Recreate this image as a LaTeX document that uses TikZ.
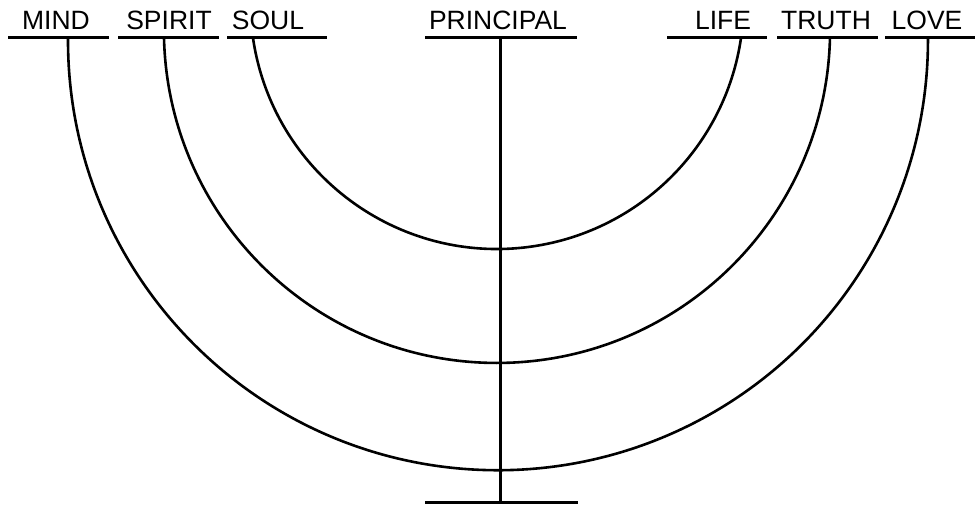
\documentclass[tikz,border=0pt]{standalone}
\usepackage{fontspec}
\setmainfont{Liberation Sans}
\begin{document}
\begin{tikzpicture}[x=1pt,y=1pt,
  lbl/.style={anchor=base,inner sep=0pt,font=\fontsize{26.5}{31}\selectfont},
  bar/.style={line width=3pt},
  ring/.style={line width=2.6pt}]
  \useasboundingbox (0,0) rectangle (977,506);
  % labels
  \node[lbl] (mind) at (56,476.5) {MIND};
  \node[lbl] (spirit) at (169,476.5) {SPIRIT};
  \node[lbl] (soul) at (268,476.5) {SOUL};
  \node[lbl] (principal) at (498,476.5) {PRINCIPAL};
  \node[lbl] (life) at (723,476.5) {LIFE};
  \node[lbl] (truth) at (826,476.5) {TRUTH};
  \node[lbl] (love) at (927,476.5) {LOVE};
  % bars under the labels
  \draw[bar] (8,468) -- (109,468);
  \draw[bar] (118,468) -- (219,468);
  \draw[bar] (227,468) -- (327,468);
  \draw[bar] (425,468) -- (577,468);
  \draw[bar] (667,468) -- (767,468);
  \draw[bar] (777,468) -- (878,468);
  \draw[bar] (885,468) -- (975,468);
  % arcs
  \draw[ring] (253,468) arc[start angle=188.3,end angle=351.7,radius=246.6];
  \draw[ring] (164,468) arc[start angle=181.4,end angle=358.6,radius=333.1];
  \draw[ring] (68,468) arc[start angle=179.7,end angle=360.3,radius=430];
  % stem and foot
  \draw[bar] (500,468) -- (500,4);
  \draw[bar] (425,4) -- (578,4);
\end{tikzpicture}
\end{document}
